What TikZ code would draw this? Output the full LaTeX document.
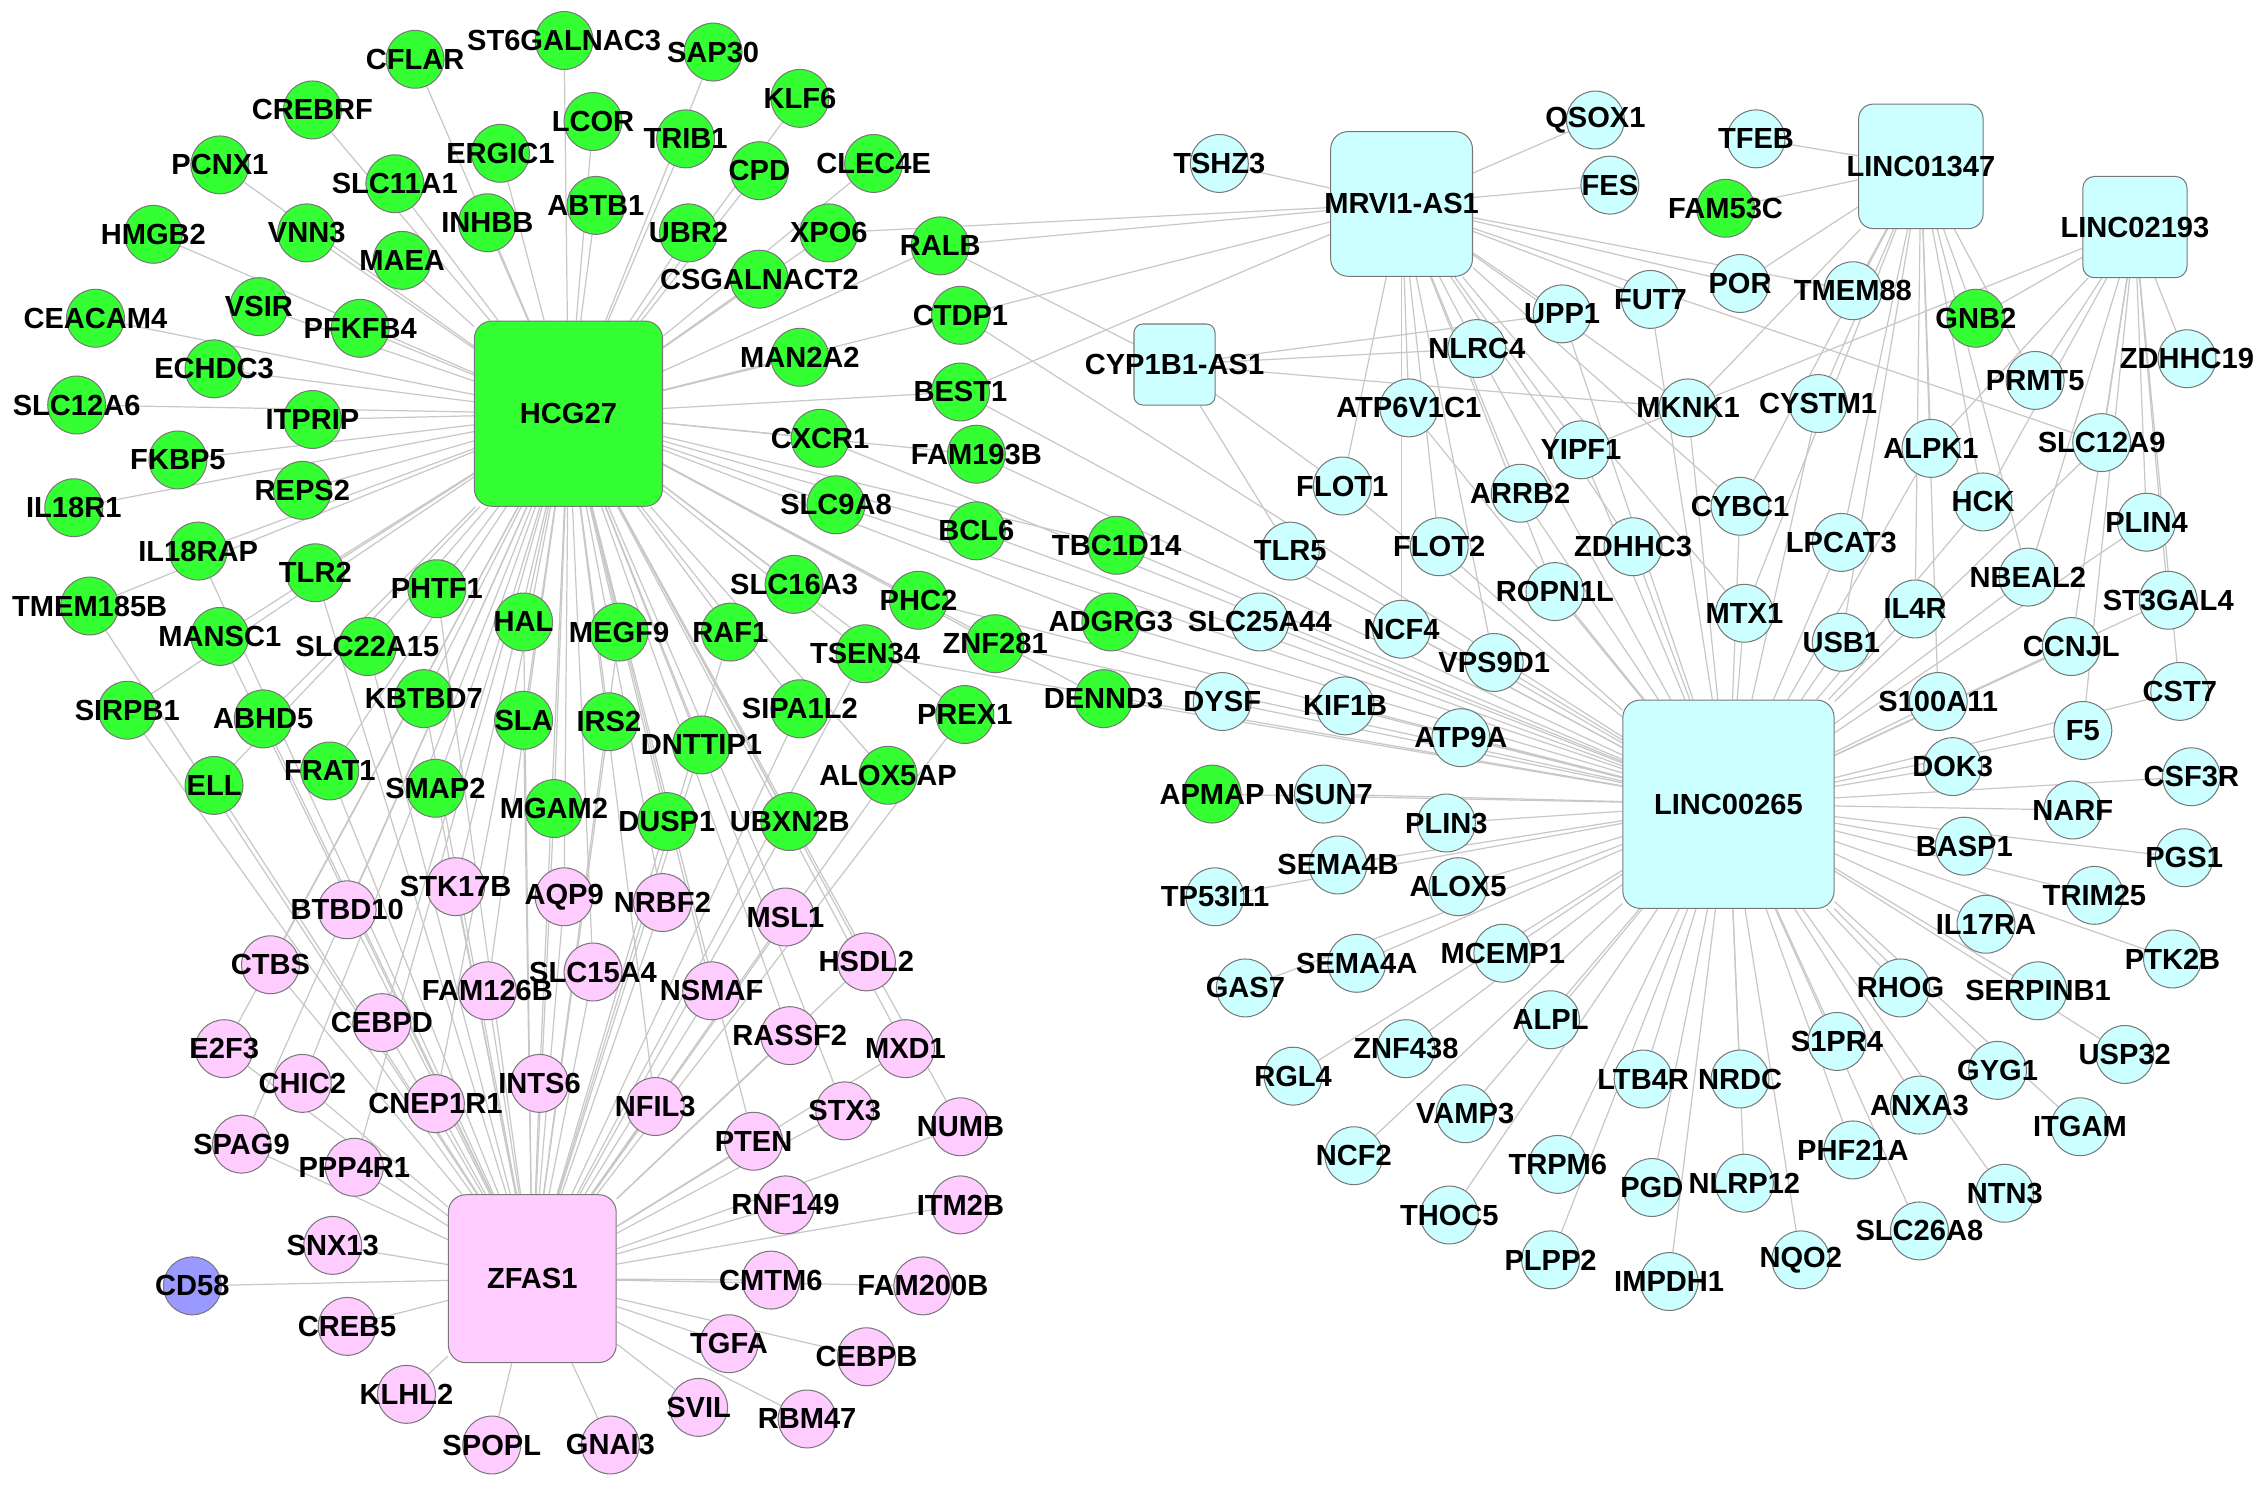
\documentclass[tikz,border=0pt]{standalone}
\usepackage{fontspec}
\setmainfont{Liberation Sans}
\pgfdeclarelayer{bg}
\pgfsetlayers{bg,main}
\definecolor{cgreen}{RGB}{51,255,51}
\definecolor{cpink}{RGB}{255,204,255}
\definecolor{ccyan}{RGB}{204,255,255}
\definecolor{cblue}{RGB}{153,153,255}
\definecolor{cedge}{RGB}{200,200,200}
\definecolor{cborder}{RGB}{120,120,120}
\tikzset{
  base/.style={circle,draw=cborder,line width=0.5pt,minimum size=1cm,inner sep=0pt},
  gn/.style={base,fill=cgreen},
  pk/.style={base,fill=cpink},
  cy/.style={base,fill=ccyan},
  bl/.style={base,fill=cblue},
  hub/.style={rectangle,rounded corners=0.3cm,draw=cborder,line width=0.5pt,inner sep=0pt},
  lab/.style={inner sep=0pt,font=\bfseries\fontsize{14.3}{16}\selectfont},
  edge/.style={draw=cedge,line width=0.6pt}
}
\newcommand\Nd[5]{\node[#1] (#2) at (#3,#4) {}; \node[lab] (#2-l) at (#3,#4) {#5};}
\begin{document}
\begin{tikzpicture}[x=0.025cm,y=-0.025cm]
\useasboundingbox (0,0) rectangle (1568,1032);
% hubs
\node[hub,fill=cgreen,minimum width=3.25cm,minimum height=3.2cm] (hcg27) at (393,286) {};
\node[lab] (hcg27-l) at (393,286) {HCG27};
\node[hub,fill=cpink,minimum width=2.9cm,minimum height=2.9cm] (zfas1) at (368,884) {};
\node[lab] (zfas1-l) at (368,884) {ZFAS1};
\node[hub,fill=ccyan,minimum width=3.65cm,minimum height=3.6cm] (linc265) at (1195,556) {};
\node[lab] (linc265-l) at (1195,556) {LINC00265};
\node[hub,fill=ccyan,minimum width=2.45cm,minimum height=2.5cm] (mrvi) at (969,141) {};
\node[lab] (mrvi-l) at (969,141) {MRVI1-AS1};
\node[hub,fill=ccyan,minimum width=2.15cm,minimum height=2.15cm,rounded corners=0.25cm] (linc1347) at (1328,115) {};
\node[lab] (linc1347-l) at (1328,115) {LINC01347};
\node[hub,fill=ccyan,minimum width=1.8cm,minimum height=1.75cm,rounded corners=0.2cm] (linc2193) at (1476,157) {};
\node[lab] (linc2193-l) at (1476,157) {LINC02193};
\node[hub,fill=ccyan,minimum width=1.4cm,minimum height=1.4cm,rounded corners=0.15cm] (cyp) at (812,252) {};
\node[lab] (cyp-l) at (812,252) {CYP1B1-AS1};
% green cluster
\Nd{gn}{cflar}{287}{41}{CFLAR}
\Nd{gn}{st6}{390}{28}{ST6GALNAC3}
\Nd{gn}{sap30}{493}{36}{SAP30}
\Nd{gn}{klf6}{553}{68}{KLF6}
\Nd{gn}{crebrf}{216}{76}{CREBRF}
\Nd{gn}{lcor}{410}{84}{LCOR}
\Nd{gn}{trib1}{474}{96}{TRIB1}
\Nd{gn}{cpd}{525}{118}{CPD}
\Nd{gn}{clec4e}{604}{113}{CLEC4E}
\Nd{gn}{pcnx1}{152}{114}{PCNX1}
\Nd{gn}{ergic1}{346}{106}{ERGIC1}
\Nd{gn}{slc11a1}{273}{127}{SLC11A1}
\Nd{gn}{inhbb}{337}{154}{INHBB}
\Nd{gn}{abtb1}{412}{142}{ABTB1}
\Nd{gn}{ubr2}{476}{161}{UBR2}
\Nd{gn}{xpo6}{573}{161}{XPO6}
\Nd{gn}{ralb}{650}{170}{RALB}
\Nd{gn}{hmgb2}{106}{162}{HMGB2}
\Nd{gn}{vnn3}{212}{161}{VNN3}
\Nd{gn}{maea}{278}{180}{MAEA}
\Nd{gn}{csgal}{525}{193}{CSGALNACT2}
\Nd{gn}{ceacam4}{66}{220}{CEACAM4}
\Nd{gn}{vsir}{179}{212}{VSIR}
\Nd{gn}{pfkfb4}{249}{227}{PFKFB4}
\Nd{gn}{ctdp1}{664}{218}{CTDP1}
\Nd{gn}{echdc3}{148}{255}{ECHDC3}
\Nd{gn}{man2a2}{553}{247}{MAN2A2}
\Nd{gn}{slc12a6}{53}{280}{SLC12A6}
\Nd{gn}{itprip}{216}{290}{ITPRIP}
\Nd{gn}{best1}{664}{271}{BEST1}
\Nd{gn}{fkbp5}{123}{318}{FKBP5}
\Nd{gn}{cxcr1}{567}{303}{CXCR1}
\Nd{gn}{fam193b}{675}{314}{FAM193B}
\Nd{gn}{reps2}{209}{339}{REPS2}
\Nd{gn}{il18r1}{51}{351}{IL18R1}
\Nd{gn}{slc9a8}{578}{349}{SLC9A8}
\Nd{gn}{bcl6}{675}{367}{BCL6}
\Nd{gn}{il18rap}{137}{381}{IL18RAP}
\Nd{gn}{tlr2}{218}{396}{TLR2}
\Nd{gn}{phtf1}{302}{407}{PHTF1}
\Nd{gn}{hal}{362}{430}{HAL}
\Nd{gn}{megf9}{428}{437}{MEGF9}
\Nd{gn}{raf1}{505}{437}{RAF1}
\Nd{gn}{slc16a3}{549}{404}{SLC16A3}
\Nd{gn}{phc2}{635}{415}{PHC2}
\Nd{gn}{tsen34}{598}{452}{TSEN34}
\Nd{gn}{znf281}{688}{445}{ZNF281}
\Nd{gn}{tbc1d14}{772}{377}{TBC1D14}
\Nd{gn}{adgrg3}{768}{430}{ADGRG3}
\Nd{gn}{dennd3}{763}{483}{DENND3}
\Nd{gn}{tmem185b}{62}{419}{TMEM185B}
\Nd{gn}{mansc1}{152}{440}{MANSC1}
\Nd{gn}{slc22a15}{254}{447}{SLC22A15}
\Nd{gn}{kbtbd7}{293}{483}{KBTBD7}
\Nd{gn}{sla}{362}{498}{SLA}
\Nd{gn}{irs2}{421}{499}{IRS2}
\Nd{gn}{sipa1l2}{553}{490}{SIPA1L2}
\Nd{gn}{prex1}{667}{494}{PREX1}
\Nd{gn}{sirpb1}{88}{491}{SIRPB1}
\Nd{gn}{abhd5}{182}{497}{ABHD5}
\Nd{gn}{dnttip1}{485}{515}{DNTTIP1}
\Nd{gn}{ell}{148}{543}{ELL}
\Nd{gn}{frat1}{228}{533}{FRAT1}
\Nd{gn}{smap2}{301}{545}{SMAP2}
\Nd{gn}{mgam2}{383}{559}{MGAM2}
\Nd{gn}{dusp1}{461}{568}{DUSP1}
\Nd{gn}{ubxn2b}{546}{568}{UBXN2B}
\Nd{gn}{alox5ap}{614}{536}{ALOX5AP}
% pink cluster
\Nd{pk}{stk17b}{315}{613}{STK17B}
\Nd{pk}{aqp9}{390}{620}{AQP9}
\Nd{pk}{nrbf2}{458}{624}{NRBF2}
\Nd{pk}{btbd10}{240}{629}{BTBD10}
\Nd{pk}{msl1}{543}{634}{MSL1}
\Nd{pk}{hsdl2}{599}{665}{HSDL2}
\Nd{pk}{ctbs}{187}{667}{CTBS}
\Nd{pk}{slc15a4}{410}{672}{SLC15A4}
\Nd{pk}{fam126b}{337}{685}{FAM126B}
\Nd{pk}{nsmaf}{492}{685}{NSMAF}
\Nd{pk}{cebpd}{264}{707}{CEBPD}
\Nd{pk}{e2f3}{155}{725}{E2F3}
\Nd{pk}{rassf2}{546}{716}{RASSF2}
\Nd{pk}{mxd1}{626}{725}{MXD1}
\Nd{pk}{chic2}{209}{749}{CHIC2}
\Nd{pk}{ints6}{373}{749}{INTS6}
\Nd{pk}{cnep1r1}{301}{763}{CNEP1R1}
\Nd{pk}{nfil3}{453}{765}{NFIL3}
\Nd{pk}{stx3}{584}{768}{STX3}
\Nd{pk}{numb}{664}{779}{NUMB}
\Nd{pk}{pten}{521}{789}{PTEN}
\Nd{pk}{spag9}{167}{791}{SPAG9}
\Nd{pk}{ppp4r1}{245}{807}{PPP4R1}
\Nd{pk}{rnf149}{543}{833}{RNF149}
\Nd{pk}{itm2b}{664}{833}{ITM2B}
\Nd{pk}{snx13}{230}{861}{SNX13}
\Nd{pk}{cmtm6}{533}{885}{CMTM6}
\Nd{pk}{fam200b}{638}{889}{FAM200B}
\Nd{pk}{creb5}{240}{917}{CREB5}
\Nd{pk}{tgfa}{504}{929}{TGFA}
\Nd{pk}{cebpb}{599}{938}{CEBPB}
\Nd{pk}{klhl2}{281}{964}{KLHL2}
\Nd{pk}{svil}{483}{973}{SVIL}
\Nd{pk}{rbm47}{558}{981}{RBM47}
\Nd{pk}{spopl}{340}{999}{SPOPL}
\Nd{pk}{gnai3}{422}{999}{GNAI3}
\Nd{bl}{cd58}{133}{889}{CD58}
% cyan cluster
\Nd{cy}{tshz3}{843}{113}{TSHZ3}
\Nd{cy}{qsox1}{1103}{83}{QSOX1}
\Nd{cy}{tfeb}{1214}{96}{TFEB}
\Nd{cy}{fes}{1113}{128}{FES}
\Nd{gn}{fam53c}{1193}{144}{FAM53C}
\Nd{cy}{por}{1203}{196}{POR}
\Nd{cy}{tmem88}{1281}{201}{TMEM88}
\Nd{cy}{fut7}{1141}{207}{FUT7}
\Nd{cy}{upp1}{1080}{217}{UPP1}
\Nd{gn}{gnb2}{1366}{220}{GNB2}
\Nd{cy}{nlrc4}{1021}{241}{NLRC4}
\Nd{cy}{zdhhc19}{1512}{248}{ZDHHC19}
\Nd{cy}{prmt5}{1407}{263}{PRMT5}
\Nd{cy}{atp6v1c1}{974}{282}{ATP6V1C1}
\Nd{cy}{mknk1}{1167}{282}{MKNK1}
\Nd{cy}{cystm1}{1257}{279}{CYSTM1}
\Nd{cy}{alpk1}{1335}{310}{ALPK1}
\Nd{cy}{slc12a9}{1453}{306}{SLC12A9}
\Nd{cy}{yipf1}{1093}{311}{YIPF1}
\Nd{cy}{flot1}{928}{336}{FLOT1}
\Nd{cy}{arrb2}{1051}{341}{ARRB2}
\Nd{cy}{cybc1}{1203}{350}{CYBC1}
\Nd{cy}{hck}{1371}{347}{HCK}
\Nd{cy}{plin4}{1484}{361}{PLIN4}
\Nd{cy}{tlr5}{892}{381}{TLR5}
\Nd{cy}{flot2}{995}{378}{FLOT2}
\Nd{cy}{zdhhc3}{1129}{378}{ZDHHC3}
\Nd{cy}{lpcat3}{1273}{375}{LPCAT3}
\Nd{cy}{nbeal2}{1402}{399}{NBEAL2}
\Nd{cy}{ropn1l}{1075}{409}{ROPN1L}
\Nd{cy}{st3gal4}{1499}{415}{ST3GAL4}
\Nd{cy}{il4r}{1324}{421}{IL4R}
\Nd{cy}{mtx1}{1206}{424}{MTX1}
\Nd{cy}{slc25a44}{871}{430}{SLC25A44}
\Nd{cy}{ncf4}{969}{435}{NCF4}
\Nd{cy}{usb1}{1273}{444}{USB1}
\Nd{cy}{ccnjl}{1432}{447}{CCNJL}
\Nd{cy}{vps9d1}{1033}{458}{VPS9D1}
\Nd{cy}{cst7}{1507}{478}{CST7}
\Nd{cy}{s100a11}{1340}{485}{S100A11}
\Nd{cy}{dysf}{845}{485}{DYSF}
\Nd{cy}{kif1b}{930}{488}{KIF1B}
\Nd{cy}{atp9a}{1010}{510}{ATP9A}
\Nd{cy}{f5}{1440}{505}{F5}
\Nd{cy}{dok3}{1350}{530}{DOK3}
\Nd{cy}{csf3r}{1515}{537}{CSF3R}
\Nd{gn}{apmap}{838}{549}{APMAP}
\Nd{cy}{nsun7}{915}{549}{NSUN7}
\Nd{cy}{plin3}{1000}{569}{PLIN3}
\Nd{cy}{narf}{1433}{560}{NARF}
\Nd{cy}{basp1}{1358}{585}{BASP1}
\Nd{cy}{pgs1}{1510}{593}{PGS1}
\Nd{cy}{sema4b}{925}{598}{SEMA4B}
\Nd{cy}{alox5}{1008}{613}{ALOX5}
\Nd{cy}{tp53i11}{840}{620}{TP53I11}
\Nd{cy}{trim25}{1448}{619}{TRIM25}
\Nd{cy}{il17ra}{1373}{639}{IL17RA}
\Nd{cy}{ptk2b}{1502}{663}{PTK2B}
\Nd{cy}{sema4a}{938}{666}{SEMA4A}
\Nd{cy}{mcemp1}{1039}{659}{MCEMP1}
\Nd{cy}{gas7}{861}{683}{GAS7}
\Nd{cy}{rhog}{1314}{683}{RHOG}
\Nd{cy}{serpinb1}{1409}{685}{SERPINB1}
\Nd{cy}{alpl}{1072}{705}{ALPL}
\Nd{cy}{s1pr4}{1270}{720}{S1PR4}
\Nd{cy}{usp32}{1469}{729}{USP32}
\Nd{cy}{znf438}{972}{725}{ZNF438}
\Nd{cy}{rgl4}{894}{744}{RGL4}
\Nd{cy}{gyg1}{1381}{740}{GYG1}
\Nd{cy}{ltb4r}{1136}{746}{LTB4R}
\Nd{cy}{nrdc}{1203}{746}{NRDC}
\Nd{cy}{anxa3}{1327}{764}{ANXA3}
\Nd{cy}{vamp3}{1013}{770}{VAMP3}
\Nd{cy}{itgam}{1438}{779}{ITGAM}
\Nd{cy}{ncf2}{936}{799}{NCF2}
\Nd{cy}{phf21a}{1281}{795}{PHF21A}
\Nd{cy}{trpm6}{1077}{805}{TRPM6}
\Nd{cy}{pgd}{1142}{821}{PGD}
\Nd{cy}{nlrp12}{1206}{818}{NLRP12}
\Nd{cy}{ntn3}{1386}{825}{NTN3}
\Nd{cy}{thoc5}{1002}{840}{THOC5}
\Nd{cy}{slc26a8}{1327}{851}{SLC26A8}
\Nd{cy}{plpp2}{1072}{871}{PLPP2}
\Nd{cy}{nqo2}{1245}{871}{NQO2}
\Nd{cy}{impdh1}{1154}{886}{IMPDH1}
% edges
\begin{pgfonlayer}{bg}
\fill[white] (0,0) rectangle (1568,1032);
\foreach \n in {cflar,st6,sap30,klf6,crebrf,lcor,trib1,cpd,clec4e,pcnx1,ergic1,slc11a1,inhbb,abtb1,ubr2,xpo6,ralb,hmgb2,vnn3,maea,csgal,ceacam4,vsir,pfkfb4,ctdp1,echdc3,man2a2,slc12a6,itprip,best1,fkbp5,cxcr1,fam193b,reps2,il18r1,slc9a8,bcl6,il18rap,tlr2,phtf1,hal,megf9,raf1,slc16a3,phc2,tsen34,znf281,tbc1d14,adgrg3,dennd3,tmem185b,mansc1,slc22a15,kbtbd7,sla,irs2,sipa1l2,prex1,sirpb1,abhd5,dnttip1,ell,frat1,smap2,mgam2,dusp1,ubxn2b,alox5ap,stk17b,aqp9,nrbf2,btbd10,msl1,hsdl2,ctbs,slc15a4,fam126b,nsmaf,cebpd,e2f3,rassf2,mxd1,chic2,ints6,cnep1r1,nfil3,stx3,numb,pten,spag9,ppp4r1}
  \draw[edge] (hcg27) -- (\n);
\foreach \n in {stk17b,aqp9,nrbf2,btbd10,msl1,hsdl2,ctbs,slc15a4,fam126b,nsmaf,cebpd,e2f3,rassf2,mxd1,chic2,ints6,cnep1r1,nfil3,stx3,numb,pten,spag9,ppp4r1,rnf149,itm2b,snx13,cmtm6,fam200b,creb5,tgfa,cebpb,klhl2,svil,rbm47,spopl,gnai3,cd58,sirpb1,tmem185b,ell,abhd5,frat1,smap2,kbtbd7,sla,irs2,mgam2,dusp1,dnttip1,ubxn2b,alox5ap,sipa1l2,mansc1,slc22a15,phtf1,hal,megf9,raf1,tlr2,il18rap,prex1,tsen34}
  \draw[edge] (zfas1) -- (\n);
\foreach \n in {ctdp1,best1,cxcr1,fam193b,bcl6,phc2,znf281,tbc1d14,adgrg3,dennd3,slc9a8,tsen34,apmap,fut7,upp1,nlrc4,atp6v1c1,mknk1,cystm1,alpk1,slc12a9,yipf1,flot1,arrb2,cybc1,hck,plin4,tlr5,flot2,zdhhc3,lpcat3,nbeal2,ropn1l,st3gal4,il4r,mtx1,slc25a44,ncf4,usb1,ccnjl,vps9d1,cst7,s100a11,dysf,kif1b,atp9a,f5,dok3,csf3r,nsun7,plin3,narf,basp1,pgs1,sema4b,alox5,tp53i11,trim25,il17ra,ptk2b,sema4a,mcemp1,gas7,rhog,serpinb1,alpl,s1pr4,usp32,znf438,rgl4,gyg1,ltb4r,nrdc,anxa3,vamp3,itgam,ncf2,phf21a,trpm6,pgd,nlrp12,ntn3,thoc5,slc26a8,plpp2,nqo2,impdh1}
  \draw[edge] (linc265) -- (\n);
\foreach \n in {tshz3,qsox1,fes,xpo6,ralb,ctdp1,best1,atp6v1c1,flot1,flot2,ncf4,nlrc4,upp1,yipf1,arrb2,ropn1l,zdhhc3,mknk1,cybc1,fut7,por,slc12a9,vps9d1,mtx1,tmem88}
  \draw[edge] (mrvi) -- (\n);
\foreach \n in {tfeb,fam53c,por,tmem88,cystm1,mknk1,alpk1,hck,gnb2,prmt5,nbeal2,lpcat3,il4r,usb1,s100a11,mtx1,cybc1}
  \draw[edge] (linc1347) -- (\n);
\foreach \n in {gnb2,zdhhc19,prmt5,slc12a9,plin4,st3gal4,cst7,ccnjl,nbeal2,hck,alpk1,yipf1,f5}
  \draw[edge] (linc2193) -- (\n);
\foreach \n in {ralb,nlrc4,upp1,mknk1,tlr5,flot1}
  \draw[edge] (cyp) -- (\n);
\end{pgfonlayer}
\end{tikzpicture}
\end{document}
